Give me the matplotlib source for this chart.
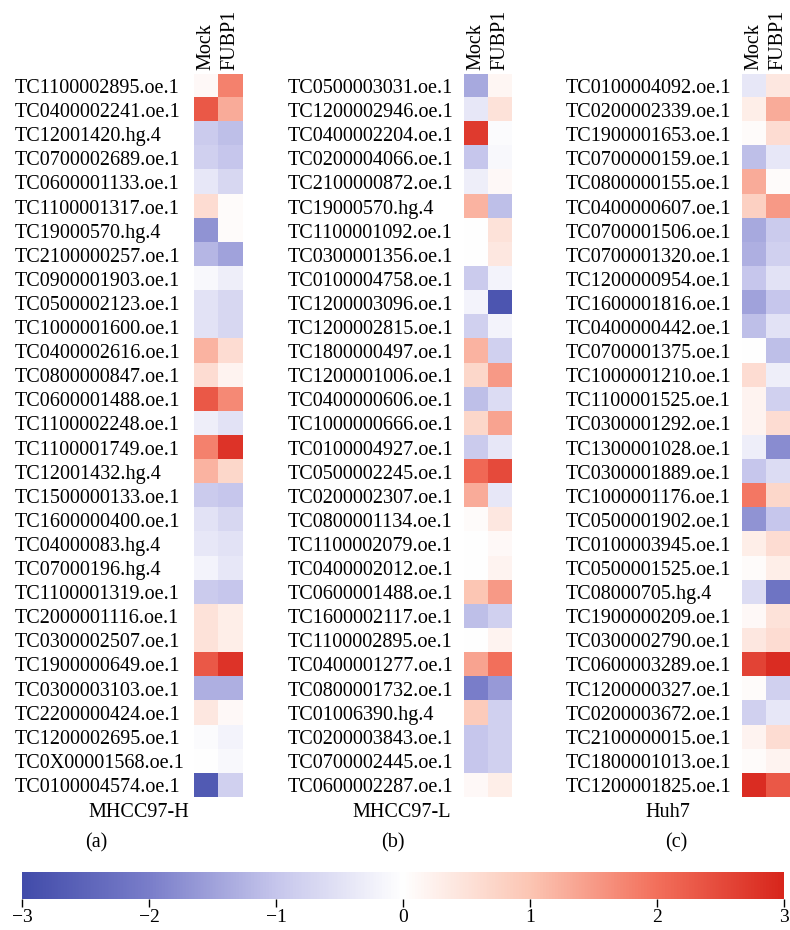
import numpy as np
import matplotlib
matplotlib.use('Agg')
import matplotlib.pyplot as plt
from matplotlib.colors import LinearSegmentedColormap

plt.rcParams['font.family'] = ['Liberation Serif', 'DejaVu Serif']

# 3组样本的基因和表达值 (Mock, FUBP1)
conditions = ['Mock', 'FUBP1']

genes_a = ['TC1100002895.oe.1', 'TC0400002241.oe.1', 'TC12001420.hg.4', 'TC0700002689.oe.1',
           'TC0600001133.oe.1', 'TC1100001317.oe.1', 'TC19000570.hg.4', 'TC2100000257.oe.1',
           'TC0900001903.oe.1', 'TC0500002123.oe.1', 'TC1000001600.oe.1', 'TC0400002616.oe.1',
           'TC0800000847.oe.1', 'TC0600001488.oe.1', 'TC1100002248.oe.1', 'TC1100001749.oe.1',
           'TC12001432.hg.4', 'TC1500000133.oe.1', 'TC1600000400.oe.1', 'TC04000083.hg.4',
           'TC07000196.hg.4', 'TC1100001319.oe.1', 'TC2000001116.oe.1', 'TC0300002507.oe.1',
           'TC1900000649.oe.1', 'TC0300003103.oe.1', 'TC2200000424.oe.1', 'TC1200002695.oe.1',
           'TC0X00001568.oe.1', 'TC0100004574.oe.1']
mock_a = [0.1, 2.3, -0.9, -0.8, -0.4, 0.6, -1.7, -1.2, -0.1, -0.5,
          -0.5, 1.2, 0.6, 2.3, -0.3, 1.8, 1.2, -0.9, -0.5, -0.4,
          -0.2, -0.9, 0.5, 0.5, 2.3, -1.3, 0.4, -0.05, 0.0, -2.7]
fubp1_a = [1.8, 1.3, -1.1, -1.0, -0.7, 0.05, 0.05, -1.5, -0.3, -0.7,
           -0.7, 0.6, 0.2, 1.7, -0.5, 2.8, 0.7, -1.0, -0.7, -0.5,
           -0.4, -1.0, 0.3, 0.3, 2.8, -1.3, 0.1, -0.2, -0.1, -0.8]

genes_b = ['TC0500003031.oe.1', 'TC1200002946.oe.1', 'TC0400002204.oe.1', 'TC0200004066.oe.1',
           'TC2100000872.oe.1', 'TC19000570.hg.4', 'TC1100001092.oe.1', 'TC0300001356.oe.1',
           'TC0100004758.oe.1', 'TC1200003096.oe.1', 'TC1200002815.oe.1', 'TC1800000497.oe.1',
           'TC1200001006.oe.1', 'TC0400000606.oe.1', 'TC1000000666.oe.1', 'TC0100004927.oe.1',
           'TC0500002245.oe.1', 'TC0200002307.oe.1', 'TC0800001134.oe.1', 'TC1100002079.oe.1',
           'TC0400002012.oe.1', 'TC0600001488.oe.1', 'TC1600002117.oe.1', 'TC1100002895.oe.1',
           'TC0400001277.oe.1', 'TC0800001732.oe.1', 'TC01006390.hg.4', 'TC0200003843.oe.1',
           'TC0700002445.oe.1', 'TC0600002287.oe.1']
mock_b = [-1.4, -0.4, 2.7, -1.0, -0.3, 1.2, 0.0, 0.0, -0.9, -0.2,
          -0.8, 1.2, 0.7, -1.1, 0.7, -0.9, 2.1, 1.3, 0.05, 0.0,
          0.0, 1.0, -1.1, 0.0, 1.4, -2.0, 0.9, -1.0, -1.0, 0.1]
fubp1_b = [0.15, 0.5, -0.05, -0.1, 0.1, -1.1, 0.5, 0.4, -0.2, -2.8,
           -0.2, -0.8, 1.5, -0.6, 1.4, -0.4, 2.5, -0.4, 0.4, 0.1,
           0.2, 1.5, -0.8, 0.2, 2.0, -1.6, -0.8, -0.8, -0.8, 0.3]

genes_c = ['TC0100004092.oe.1', 'TC0200002339.oe.1', 'TC1900001653.oe.1', 'TC0700000159.oe.1',
           'TC0800000155.oe.1', 'TC0400000607.oe.1', 'TC0700001506.oe.1', 'TC0700001320.oe.1',
           'TC1200000954.oe.1', 'TC1600001816.oe.1', 'TC0400000442.oe.1', 'TC0700001375.oe.1',
           'TC1000001210.oe.1', 'TC1100001525.oe.1', 'TC0300001292.oe.1', 'TC1300001028.oe.1',
           'TC0300001889.oe.1', 'TC1000001176.oe.1', 'TC0500001902.oe.1', 'TC0100003945.oe.1',
           'TC0500001525.oe.1', 'TC08000705.hg.4', 'TC1900000209.oe.1', 'TC0300002790.oe.1',
           'TC0600003289.oe.1', 'TC1200000327.oe.1', 'TC0200003672.oe.1', 'TC2100000015.oe.1',
           'TC1800001013.oe.1', 'TC1200001825.oe.1']
mock_c = [-0.4, 0.3, 0.05, -1.1, 1.3, 0.8, -1.4, -1.3, -1.0, -1.5,
          -1.1, 0.0, 0.6, 0.2, 0.2, -0.3, -1.0, 1.9, -1.7, 0.3,
          0.05, -0.6, 0.1, 0.4, 2.6, 0.05, -0.8, 0.2, 0.05, 2.9]
fubp1_c = [0.4, 1.3, 0.6, -0.4, 0.05, 1.5, -0.9, -0.8, -0.5, -1.0,
           -0.5, -1.1, -0.3, -0.8, 0.6, -1.8, -0.6, 0.7, -1.0, 0.6,
           0.3, -2.2, 0.5, 0.6, 2.9, -0.8, -0.4, 0.6, 0.2, 2.3]

cell_lines = ['MHCC97-H', 'MHCC97-L', 'Huh7']
panel_tags = ['(a)', '(b)', '(c)']
cbar_ticks = [-3, -2, -1, 0, 1, 2, 3]

# 颜色映射: 蓝-白-红
cmap = LinearSegmentedColormap.from_list('bwr_pub', [
    (0.0, (66/255, 76/255, 170/255)),
    (1/6, (122/255, 126/255, 202/255)),
    (2/6, (198/255, 198/255, 236/255)),
    (0.5, (1.0, 1.0, 1.0)),
    (4/6, (252/255, 198/255, 180/255)),
    (5/6, (243/255, 112/255, 92/255)),
    (1.0, (216/255, 38/255, 28/255)),
])

W, H = 790, 930
FS = 14.5
fig = plt.figure(figsize=(W / 100, H / 100), dpi=100)

panels = [(genes_a, mock_a, fubp1_a), (genes_b, mock_b, fubp1_b), (genes_c, mock_c, fubp1_c)]
heat_left = [194, 464, 742]      # 像素位置
label_left = [15, 288, 566]      # 行标签左对齐位置
title_x = [139, 402, 668]
tag_x = [96, 393, 676]
top, bottom = 74, 797

for i, (genes, mock, fubp1) in enumerate(panels):
    ax = fig.add_axes([heat_left[i] / W, 1 - bottom / H, 48 / W, (bottom - top) / H])
    data = np.column_stack([mock, fubp1])
    ax.imshow(data, cmap=cmap, vmin=-3, vmax=3, aspect='auto', interpolation='nearest')
    ax.set_yticks(range(len(genes)))
    ax.set_yticklabels(genes, fontsize=FS, ha='left')
    ax.set_xticks(range(2))
    ax.set_xticklabels(conditions, rotation=90, fontsize=FS)
    ax.xaxis.tick_top()
    # 行标签左对齐: pad = 热图左边 - 标签左边 (像素->点)
    ax.tick_params(axis='y', length=0, pad=(heat_left[i] - label_left[i]) * 0.72)
    ax.tick_params(axis='x', length=0, pad=3)
    for s in ax.spines.values():
        s.set_visible(False)
    fig.text(title_x[i] / W, 1 - 812 / H, cell_lines[i], ha='center', va='center', fontsize=FS)
    fig.text(tag_x[i] / W, 1 - 843 / H, panel_tags[i], ha='center', va='center', fontsize=FS)

# 颜色条
cax = fig.add_axes([22 / W, 1 - 899 / H, 762 / W, 27 / H])
grad = np.linspace(-3, 3, 512).reshape(1, -1)
cax.imshow(grad, cmap=cmap, vmin=-3, vmax=3, aspect='auto', extent=[-3, 3, 0, 1])
cax.set_xlim(-3, 3)
cax.set_yticks([])
cax.set_xticks(cbar_ticks)
cax.set_xticklabels(['\u22123', '\u22122', '\u22121', '0', '1', '2', '3'], fontsize=14)
cax.tick_params(axis='x', length=6, width=1, pad=1)
for s in cax.spines.values():
    s.set_visible(False)

fig.savefig('out.png', dpi=100)
